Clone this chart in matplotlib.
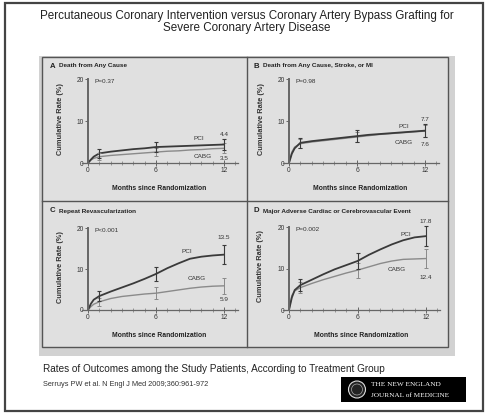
import matplotlib
matplotlib.use("Agg")
import matplotlib.pyplot as plt
from matplotlib.patches import Rectangle, Circle
from matplotlib.ticker import MultipleLocator

plt.rcParams['font.family'] = ['Liberation Sans', 'DejaVu Sans']

W, H = 487, 413

months = [0, 0.25, 0.5, 1, 2, 3, 4, 5, 6, 7, 8, 9, 10, 11, 12]
bar_months = [1, 6, 12]

# A  death from any cause
a_pci = [0, 0.8, 1.5, 2.3, 2.7, 3.0, 3.3, 3.5, 3.8, 3.9, 4.0, 4.1, 4.2, 4.3, 4.4]
a_cabg = [0, 0.7, 1.1, 1.5, 1.8, 2.0, 2.2, 2.4, 2.6, 2.8, 2.9, 3.1, 3.2, 3.4, 3.5]
a_pci_err = [1.0, 1.1, 1.2]
a_cabg_err = [0.9, 1.0, 1.2]

# B  death from any cause, stroke, or MI
b_pci = [0, 2.2, 3.5, 4.8, 5.2, 5.5, 5.8, 6.1, 6.4, 6.7, 6.9, 7.1, 7.3, 7.5, 7.7]
b_cabg = [0, 2.6, 3.8, 4.6, 5.0, 5.3, 5.6, 5.9, 6.2, 6.5, 6.8, 7.0, 7.2, 7.4, 7.6]
b_pci_err = [1.2, 1.4, 1.6]
b_cabg_err = [1.1, 1.3, 1.5]

# C  repeat revascularization
c_pci = [0, 1.5, 2.5, 3.4, 4.5, 5.5, 6.5, 7.6, 8.8, 10.2, 11.4, 12.5, 13.0, 13.3, 13.5]
c_cabg = [0, 0.8, 1.4, 2.0, 2.8, 3.3, 3.6, 3.9, 4.1, 4.5, 4.9, 5.3, 5.6, 5.8, 5.9]
c_pci_err = [1.3, 1.8, 2.3]
c_cabg_err = [1.0, 1.5, 2.0]

# D  major adverse cardiac or cerebrovascular event
d_pci = [0, 3.0, 4.8, 6.0, 7.3, 8.6, 9.8, 10.8, 11.8, 13.3, 14.6, 15.8, 16.8, 17.5, 17.8]
d_cabg = [0, 3.5, 4.6, 5.4, 6.4, 7.3, 8.1, 8.9, 9.6, 10.4, 11.2, 11.8, 12.2, 12.3, 12.4]
d_pci_err = [1.4, 2.0, 2.4]
d_cabg_err = [1.3, 1.8, 2.2]

panels = [
    dict(letter='A', title='Death from Any Cause', p='P=0.37',
         pci=a_pci, cabg=a_cabg, pe=a_pci_err, ce=a_cabg_err,
         x0=88, x12=224, y0=163, y20=79, tl=(42, 66),
         pci_lab=(9.8, 5.8), cabg_lab=(10.1, 1.5), top='4.4', bot='3.5',
         top_y=6.9, bot_y=1.0),
    dict(letter='B', title='Death from Any Cause, Stroke, or MI', p='P=0.98',
         pci=b_pci, cabg=b_cabg, pe=b_pci_err, ce=b_cabg_err,
         x0=289, x12=425, y0=163, y20=79, tl=(246, 66),
         pci_lab=(10.1, 8.8), cabg_lab=(10.1, 5.0), top='7.7', bot='7.6',
         top_y=10.4, bot_y=4.4),
    dict(letter='C', title='Repeat Revascularization', p='P<0.001',
         pci=c_pci, cabg=c_cabg, pe=c_pci_err, ce=c_cabg_err,
         x0=88, x12=224, y0=310, y20=228, tl=(42, 211),
         pci_lab=(8.7, 14.2), cabg_lab=(9.6, 7.6), top='13.5', bot='5.9',
         top_y=17.8, bot_y=2.5),
    dict(letter='D', title='Major Adverse Cardiac or Cerebrovascular Event', p='P=0.002',
         pci=d_pci, cabg=d_cabg, pe=d_pci_err, ce=d_cabg_err,
         x0=289, x12=426, y0=310, y20=227, tl=(246, 211),
         pci_lab=(10.2, 18.2), cabg_lab=(9.4, 9.7), top='17.8', bot='12.4',
         top_y=21.4, bot_y=7.9),
]

fig = plt.figure(figsize=(W / 100, H / 100), dpi=100)
fig.patch.set_facecolor('white')

# background layer in pixel coordinates
bg = fig.add_axes([0, 0, 1, 1])
bg.set_xlim(0, W)
bg.set_ylim(H, 0)
bg.axis('off')

bg.add_patch(Rectangle((5, 3), 478, 408, fill=False, ec='#444444', lw=1.6))
bg.text(247, 16, 'Percutaneous Coronary Intervention versus Coronary Artery Bypass Grafting for',
        ha='center', va='center', fontsize=8.4, color='#222222')
bg.text(247, 28.5, 'Severe Coronary Artery Disease',
        ha='center', va='center', fontsize=8.4, color='#222222')

# panel block with shadow
bg.add_patch(Rectangle((39, 56), 416, 300, fc='#d2d2d2', ec='none'))
bg.add_patch(Rectangle((42, 57), 406, 290, fc='#e0e0e0', ec='#555555', lw=1.0))
bg.plot([247, 247], [57, 347], color='#555555', lw=1.0)
bg.plot([42, 448], [200.5, 200.5], color='#555555', lw=1.0)

bg.text(43, 369, 'Rates of Outcomes among the Study Patients, According to Treatment Group',
        ha='left', va='center', fontsize=7.2, color='#222222')
bg.text(43, 384, 'Serruys PW et al. N Engl J Med 2009;360:961-972',
        ha='left', va='center', fontsize=5.3, color='#333333')

# NEJM logo
bg.add_patch(Rectangle((341, 377), 125, 25, fc='black', ec='none'))
bg.add_patch(Circle((357, 389.5), 8.5, fc='#222222', ec='#dddddd', lw=0.8))
bg.add_patch(Circle((357, 389.5), 5.5, fc='none', ec='#aaaaaa', lw=0.5))
bg.text(371, 385, 'THE NEW ENGLAND', ha='left', va='center', fontsize=5.2,
        color='white', family=['Liberation Serif', 'DejaVu Serif'])
bg.text(371, 395.5, 'JOURNAL of MEDICINE', ha='left', va='center', fontsize=5.2,
        color='white', family=['Liberation Serif', 'DejaVu Serif'])

xlim = (-0.8, 13.4)
ylim = (-1.8, 21.5)

for p in panels:
    sx = (p['x12'] - p['x0']) / 12
    sy = (p['y0'] - p['y20']) / 20
    left = p['x0'] + xlim[0] * sx
    right = p['x0'] + xlim[1] * sx
    top = p['y0'] - ylim[1] * sy
    bottom = p['y0'] - ylim[0] * sy
    ax = fig.add_axes([left / W, 1 - bottom / H, (right - left) / W, (bottom - top) / H])
    ax.patch.set_alpha(0)
    ax.set_xlim(*xlim)
    ax.set_ylim(*ylim)

    for s in ['top', 'right']:
        ax.spines[s].set_visible(False)
    ax.spines['left'].set_position(('data', 0))
    ax.spines['left'].set_bounds(0, 20)
    ax.spines['left'].set_color('#666666')
    ax.spines['left'].set_linewidth(1.4)
    ax.spines['bottom'].set_position(('data', 0))
    ax.spines['bottom'].set_bounds(-0.5, 13.2)
    ax.spines['bottom'].set_color('#666666')
    ax.spines['bottom'].set_linewidth(0.9)

    ax.set_xticks([0, 6, 12])
    ax.xaxis.set_minor_locator(MultipleLocator(1))
    ax.set_yticks([0, 10, 20])
    ax.tick_params(axis='x', which='major', direction='inout', length=4, width=0.7,
                   colors='#666666', labelsize=4.8, labelcolor='#333333', pad=1)
    ax.tick_params(axis='x', which='minor', direction='inout', length=2.5, width=0.5,
                   colors='#777777')
    ax.tick_params(axis='y', direction='out', length=2, width=0.7, colors='#666666',
                   labelsize=4.8, labelcolor='#333333', pad=1)

    ax.plot(months, p['cabg'], color='#8a8a8a', lw=1.0)
    ax.plot(months, p['pci'], color='#3a3a3a', lw=1.3)
    cabg_at = [p['cabg'][months.index(m)] for m in bar_months]
    pci_at = [p['pci'][months.index(m)] for m in bar_months]
    ax.errorbar(bar_months, cabg_at, yerr=p['ce'], fmt='none', ecolor='#8a8a8a',
                elinewidth=0.7, capsize=1.5, capthick=0.7)
    ax.errorbar(bar_months, pci_at, yerr=p['pe'], fmt='none', ecolor='#3a3a3a',
                elinewidth=0.8, capsize=1.5, capthick=0.8)

    ax.text(0.6, 19.5, p['p'], fontsize=4.6, color='#333333', va='center')
    ax.text(*p['pci_lab'], 'PCI', fontsize=4.6, color='#333333', ha='center', va='center')
    ax.text(*p['cabg_lab'], 'CABG', fontsize=4.6, color='#333333', ha='center', va='center')
    ax.text(12, p['top_y'], p['top'], fontsize=4.6, color='#333333', ha='center', va='center')
    ax.text(12, p['bot_y'], p['bot'], fontsize=4.6, color='#333333', ha='center', va='center')

    ax.set_ylabel('Cumulative Rate (%)', fontsize=5.3, fontweight='bold', color='#333333')
    ax.yaxis.set_label_coords(-0.095, 0.53)
    ax.set_xlabel('Months since Randomization', fontsize=4.9, fontweight='bold',
                  color='#222222', labelpad=8)

    tx, ty = p['tl']
    bg.text(tx + 8, ty, p['letter'], fontsize=5.6, fontweight='bold',
            color='#222222', va='center')
    bg.text(tx + 17, ty, p['title'], fontsize=4.6, fontweight='bold',
            color='#222222', va='center')

fig.savefig('out.png', dpi=100, facecolor='white')
